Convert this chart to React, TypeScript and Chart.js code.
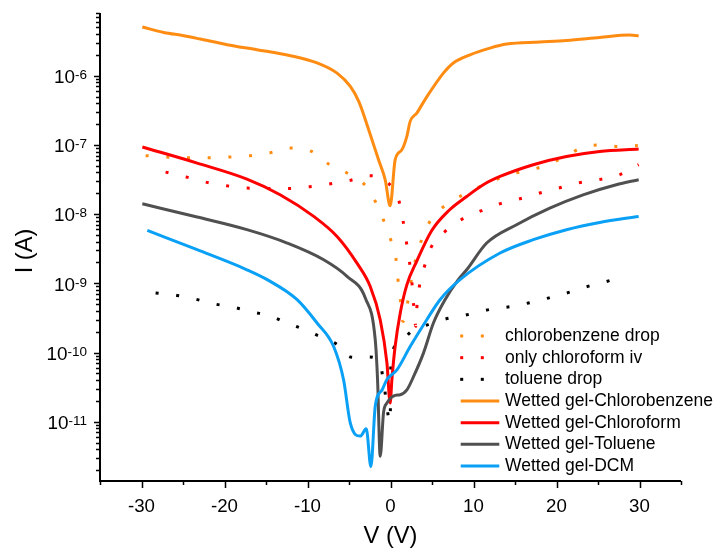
import React, { useEffect, useRef } from "react";
import { Chart, registerables } from "chart.js";

Chart.register(...registerables);

// ---------- data (V in volts, I in amperes) ----------
const vCbDrop = [-29.5, -27, -24.5, -22, -19.5, -16.9, -14.5, -12.0, -9.5, -7.45, -5.24, -3.0, -1.8, -0.76, -0.04, 0.65, 0.89, 1.17, 1.5, 2.28, 2.69, 4.17, 5.58, 7.45, 9.58, 11.78, 14.27, 16.7, 19.0, 21.4, 23.2, 25.5, 27.4, 29.8];
const iCbDrop = [7.0e-8, 6.68e-8, 6.53e-8, 6.53e-8, 6.68e-8, 6.98e-8, 7.7e-8, 9.0e-8, 8.05e-8, 5.3e-8, 3.93e-8, 2.57e-8, 1.5e-8, 7.76e-9, 4.5e-9, 2.3e-9, 1.17e-9, 6.0e-10, 2.8e-10, 7.5e-10, 1.49e-9, 5.75e-9, 1.04e-8, 1.56e-8, 2.13e-8, 2.82e-8, 3.72e-8, 4.3e-8, 5.2e-8, 7.2e-8, 9.3e-8, 1.0e-7, 9.5e-8, 9.8e-8];

const vCfOnly = [-27.1, -24.6, -22.15, -19.75, -17.26, -12.26, -9.77, -7.4, -4.93, -2.52, -0.19, 1.01, 1.49, 1.89, 2.28, 2.57, 2.76, 3.05, 3.17, 3.47, 4.09, 4.89, 6.49, 8.5, 10.7, 13.1, 15.47, 17.87, 20.24, 22.64, 25.1, 27.6, 29.9];
const iCfOnly = [4.05e-8, 3.44e-8, 2.88e-8, 2.57e-8, 2.38e-8, 2.35e-8, 2.49e-8, 2.72e-8, 3.07e-8, 3.59e-8, 2.75e-8, 1.56e-8, 8.3e-9, 4.13e-9, 2.07e-9, 1.06e-9, 5.3e-10, 2.4e-10, 4.4e-10, 8.9e-10, 1.75e-9, 3.3e-9, 5.5e-9, 8.3e-9, 1.09e-8, 1.4e-8, 1.65e-8, 2.0e-8, 2.38e-8, 2.82e-8, 3.14e-8, 3.7e-8, 5.2e-8];

const vTolDrop = [-28.3, -25.75, -23.56, -21.07, -19.06, -16.59, -14.34, -12.93, -10.65, -8.97, -6.44, -5.24, -4.5, -2.56, -1.24, -0.84, -0.04, 0.05, 0.77, 2.57, 4.45, 6.61, 8.7, 10.66, 12.3, 14.78, 16.6, 19.0, 21.48, 23.5, 26.0, 28.4];
const iTolDrop = [7.24e-10, 6.68e-10, 5.93e-10, 5.0e-10, 4.54e-10, 3.85e-10, 3.33e-10, 2.82e-10, 2.21e-10, 1.81e-10, 1.3e-10, 9.1e-11, 8.5e-11, 8.6e-11, 6.8e-11, 3.8e-11, 1.0e-11, 7.3e-11, 1.27e-10, 2.04e-10, 2.51e-10, 3.05e-10, 3.4e-10, 3.85e-10, 4.27e-10, 4.66e-10, 5.19e-10, 6.12e-10, 7.4e-10, 8.85e-10, 1.06e-9, 1.29e-9];

const vCbWet = [-29.9, -27.3, -24.9, -22.9, -19.7, -16.1, -12.05, -8.85, -6.44, -4.84, -3.8, -2.5, -1.44, -0.64, -0.04, 0.56, 1.37, 1.97, 2.37, 3.17, 4.2, 6.37, 7.57, 9.58, 11.98, 14.0, 18.0, 21.2, 25.2, 28.8, 29.9];
const iCbWet = [5.06e-6, 4.23e-6, 3.79e-6, 3.39e-6, 2.81e-6, 2.38e-6, 1.95e-6, 1.53e-6, 1.09e-6, 7.0e-7, 4.2e-7, 1.49e-7, 6.1e-8, 3.14e-8, 1.32e-8, 6.1e-8, 8.5e-8, 1.33e-7, 2.19e-7, 2.89e-7, 4.6e-7, 1.09e-6, 1.53e-6, 2.01e-6, 2.51e-6, 2.87e-6, 3.07e-6, 3.24e-6, 3.57e-6, 3.87e-6, 3.79e-6];

const vCfWet = [-29.9, -23.3, -17.3, -13.3, -9.25, -6.44, -4.04, -2.44, -1.24, -0.43, -0.04, 0.17, 0.56, 1.17, 1.97, 3.17, 4.97, 7.0, 9.18, 11.18, 13.2, 17.2, 21.2, 25.2, 29.9];
const iCfWet = [9.33e-8, 5.47e-8, 3.21e-8, 1.91e-8, 9.27e-9, 4.76e-9, 1.96e-9, 9.0e-10, 2.98e-10, 7.1e-11, 1.86e-11, 4.1e-11, 1.23e-10, 3.7e-10, 9.5e-10, 2.1e-9, 5.8e-9, 1.12e-8, 1.8e-8, 2.66e-8, 3.5e-8, 5.18e-8, 6.8e-8, 8.05e-8, 8.73e-8];

const vTolWet = [-29.9, -23.3, -17.3, -12.45, -8.05, -5.24, -3.0, -1.84, -1.56, -1.24, -0.84, -0.43, 0.56, 1.17, 1.97, 2.77, 3.97, 5.17, 6.57, 8.17, 9.18, 11.59, 15.19, 19.19, 23.2, 27.2, 29.9];
const iTolWet = [1.41e-8, 9.08e-9, 5.96e-9, 3.82e-9, 2.19e-9, 1.26e-9, 6.0e-10, 1.53e-10, 4.07e-11, 3.16e-12, 1.35e-11, 1.86e-11, 2.4e-11, 2.45e-11, 2.88e-11, 4.47e-11, 9.8e-11, 2.67e-10, 5.8e-10, 1.13e-9, 1.57e-9, 3.82e-9, 7.03e-9, 1.22e-8, 1.9e-8, 2.66e-8, 3.14e-8];

const vDcmWet = [-29.3, -23.3, -17.3, -14.86, -11.25, -8.85, -6.85, -5.65, -4.84, -3.64, -2.92, -2.36, -1.84, -1.0, -0.43, 0.77, 2.37, 4.37, 5.97, 8.38, 13.2, 17.2, 21.2, 25.2, 29.9];
const iDcmWet = [5.81e-9, 3.06e-9, 1.57e-9, 1.13e-9, 5.8e-10, 2.67e-10, 1.22e-10, 4.0e-11, 9.5e-12, 6.2e-12, 7.9e-12, 2.24e-12, 1.66e-11, 2.9e-11, 4.07e-11, 5.6e-11, 1.22e-10, 2.98e-10, 5.8e-10, 1.13e-9, 2.74e-9, 4.27e-9, 5.96e-9, 7.59e-9, 9.27e-9];

const seriesLabels = [
  "chlorobenzene drop",
  "only chloroform iv",
  "toluene drop",
  "Wetted gel-Chlorobenzene",
  "Wetted gel-Chloroform",
  "Wetted gel-Toluene",
  "Wetted gel-DCM",
];

const xMajorTicks = [-30, -20, -10, 0, 10, 20, 30];
const xMinorTicks = [-35, -25, -15, -5, 5, 15, 25, 35];
const yDecadeExponents = [-11, -10, -9, -8, -7, -6];
const xRange = [-35, 35];
const yRange = [1.39e-12, 8.07e-6];
const xTitle = "V (V)";
const yTitle = "I (A)";

// ---------- styles ----------
const FONT = "'Liberation Sans', Arial, Helvetica, sans-serif";
const ORANGE = "#FF8C12";
const RED = "#FF0000";
const BLACK = "#000000";
const GRAY = "#505050";
const BLUE = "#0AA0F5";

const pts = (v: number[], i: number[]) => v.map((x, k) => ({ x, y: i[k] }));

const dotted = (label: string, color: string, data: any, order: number) => ({
  label,
  data,
  borderColor: color,
  backgroundColor: color,
  borderWidth: 3,
  borderDash: [3, 17.7],
  borderCapStyle: "butt",
  pointRadius: 0,
  cubicInterpolationMode: "monotone",
  order,
  _dotted: true,
});

const solid = (label: string, color: string, data: any, order: number) => ({
  label,
  data,
  borderColor: color,
  backgroundColor: color,
  borderWidth: 3,
  pointRadius: 0,
  cubicInterpolationMode: "monotone",
  borderJoinStyle: "round",
  order,
  _dotted: false,
});

const originAxesPlugin = {
  id: "originAxes",
  afterDraw(chart: any) {
    const { ctx, chartArea: a } = chart;
    const xs = chart.scales.x;
    const ys = chart.scales.y;
    ctx.save();
    ctx.strokeStyle = "#000";
    ctx.fillStyle = "#000";

    // axis lines
    ctx.lineWidth = 2;
    ctx.beginPath();
    ctx.moveTo(a.left, a.top);
    ctx.lineTo(a.left, a.bottom);
    ctx.lineTo(a.right, a.bottom);
    ctx.stroke();

    // x ticks
    ctx.lineWidth = 1.5;
    ctx.beginPath();
    xMajorTicks.forEach((v) => {
      const px = Math.round(xs.getPixelForValue(v)) + 0.5;
      ctx.moveTo(px, a.bottom);
      ctx.lineTo(px, a.bottom + 7);
    });
    xMinorTicks.forEach((v) => {
      const px = Math.round(xs.getPixelForValue(v)) + 0.5;
      ctx.moveTo(px, a.bottom);
      ctx.lineTo(px, a.bottom + 4);
    });
    ctx.stroke();

    // y ticks (log)
    ctx.beginPath();
    for (let e = -13; e <= -5; e++) {
      for (let m = 1; m <= 9; m++) {
        const val = m * Math.pow(10, e);
        if (val < yRange[0] * 0.999 || val > yRange[1] * 1.001) continue;
        const py = Math.round(ys.getPixelForValue(val)) + 0.5;
        const len = m === 1 ? 6 : 4;
        ctx.moveTo(a.left, py);
        ctx.lineTo(a.left - len, py);
      }
    }
    ctx.stroke();

    // x tick labels
    ctx.font = `18.7px ${FONT}`;
    ctx.textAlign = "center";
    ctx.textBaseline = "alphabetic";
    xMajorTicks.forEach((v) => {
      ctx.fillText(String(v), xs.getPixelForValue(v), a.bottom + 31);
    });

    // y tick labels 10^n
    yDecadeExponents.forEach((e) => {
      const py = ys.getPixelForValue(Math.pow(10, e));
      const right = a.left - 13;
      ctx.font = `13.5px ${FONT}`;
      const expStr = String(e);
      const ew = ctx.measureText(expStr).width;
      ctx.textAlign = "left";
      ctx.fillText(expStr, right - ew, py + 3.3);
      ctx.font = `18.9px ${FONT}`;
      ctx.textAlign = "right";
      ctx.fillText("10", right - ew, py + 7.3);
    });

    // axis titles
    ctx.font = `23.7px ${FONT}`;
    ctx.textAlign = "center";
    ctx.fillText(xTitle, (a.left + a.right) / 2, 543);
    ctx.save();
    ctx.translate(32, 251);
    ctx.rotate(-Math.PI / 2);
    ctx.fillText(yTitle, 0, 0);
    ctx.restore();

    // legend
    const ds = chart.data.datasets;
    const y0 = 336;
    const dy = 21.67;
    ctx.font = `17.5px ${FONT}`;
    ctx.textAlign = "left";
    ctx.textBaseline = "alphabetic";
    ds.forEach((d: any, k: number) => {
      const cy = y0 + k * dy;
      ctx.fillStyle = d.borderColor;
      ctx.strokeStyle = d.borderColor;
      if (d._dotted) {
        ctx.fillRect(460.2, cy - 1.5, 3, 3);
        ctx.fillRect(480.8, cy - 1.5, 3, 3);
      } else {
        ctx.lineWidth = 3;
        ctx.beginPath();
        ctx.moveTo(460.7, cy);
        ctx.lineTo(499.3, cy);
        ctx.stroke();
      }
      ctx.fillStyle = "#000";
      ctx.fillText(d.label, 505, cy + 5);
    });
    ctx.restore();
  },
};

export default function App() {
  const ref = useRef<HTMLCanvasElement | null>(null);
  useEffect(() => {
    if (!ref.current) return;
    const chart = new Chart(ref.current, {
      type: "line",
      data: {
        datasets: [
          dotted(seriesLabels[0], ORANGE, pts(vCbDrop, iCbDrop), 7),
          dotted(seriesLabels[1], RED, pts(vCfOnly, iCfOnly), 6),
          dotted(seriesLabels[2], BLACK, pts(vTolDrop, iTolDrop), 5),
          solid(seriesLabels[3], ORANGE, pts(vCbWet, iCbWet), 4),
          solid(seriesLabels[4], RED, pts(vCfWet, iCfWet), 3),
          solid(seriesLabels[5], GRAY, pts(vTolWet, iTolWet), 2),
          solid(seriesLabels[6], BLUE, pts(vDcmWet, iDcmWet), 1),
        ] as any,
      },
      options: {
        animation: false,
        responsive: false,
        devicePixelRatio: 1,
        layout: { padding: { left: 100, top: 13, right: 36, bottom: 75 } },
        plugins: { legend: { display: false }, tooltip: { enabled: false } },
        scales: {
          x: { type: "linear", min: xRange[0], max: xRange[1], display: false },
          y: { type: "logarithmic", min: yRange[0], max: yRange[1], display: false },
        },
      } as any,
      plugins: [originAxesPlugin],
    });
    return () => chart.destroy();
  }, []);
  return (
    <div style={{ position: "absolute", left: 0, top: 0, width: 717, height: 556, background: "#fff" }}>
      <canvas ref={ref} width={717} height={556} style={{ width: 717, height: 556 }} />
    </div>
  );
}
